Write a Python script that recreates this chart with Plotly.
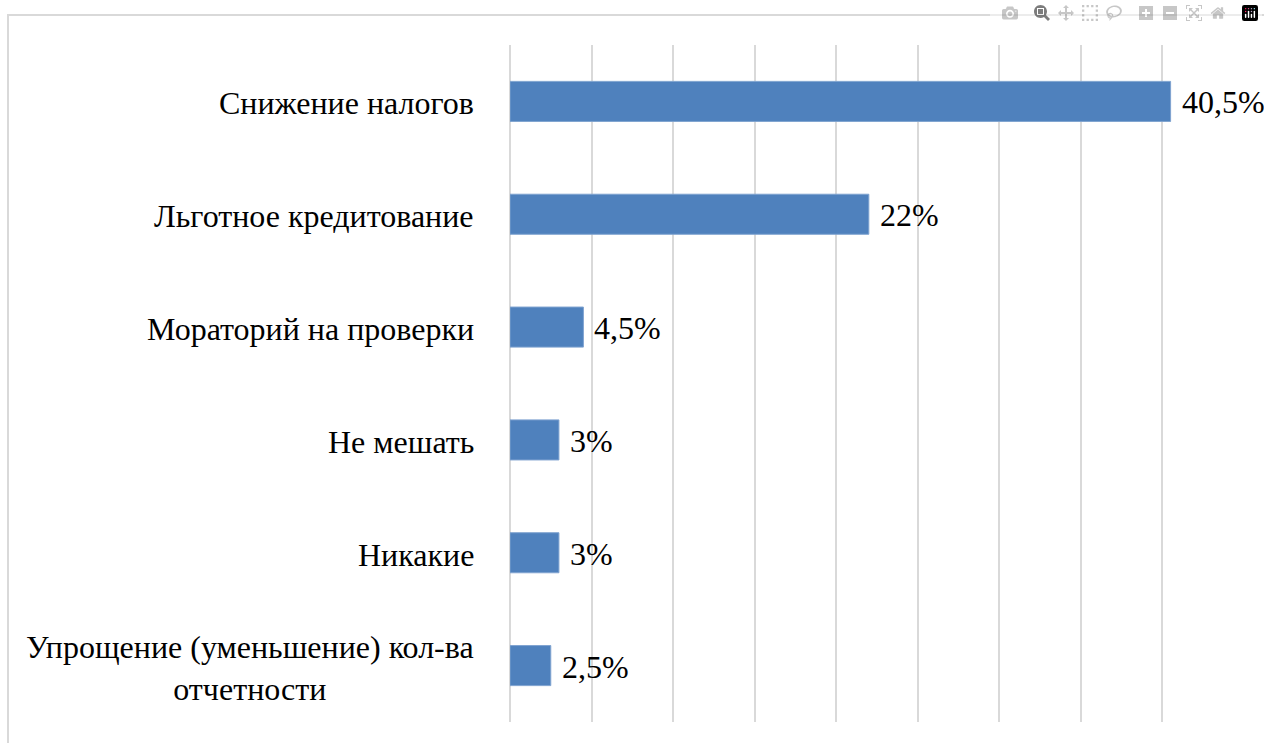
import plotly.graph_objects as go

categories = [
    "Снижение налогов",
    "Льготное кредитование",
    "Мораторий на проверки",
    "Не мешать",
    "Никакие",
    "Упрощение (уменьшение) кол-ва<br>отчетности",
]
values = [40.5, 22, 4.5, 3, 3, 2.5]
value_labels = ["40,5%", "22%", "4,5%", "3%", "3%", "2,5%"]

FONT = "Liberation Serif, Times New Roman, serif"
FS = 32
FIG_W = 1264
FIG_H = 743

fig = go.Figure(
    go.Bar(
        y=categories,
        x=values,
        orientation="h",
        marker=dict(color="#4F81BD", line=dict(color="#7FA3D0", width=1)),
        width=0.355,
        hoverinfo="x+y",
    )
)

annotations = []
for c in categories:
    annotations.append(
        dict(
            x=0, xref="paper", y=c, yref="y",
            text=c, showarrow=False, xanchor="right", yanchor="middle",
            align="center", xshift=-34, yshift=-2,
            font=dict(family=FONT, size=FS, color="#000000"),
        )
    )
for c, v, t in zip(categories, values, value_labels):
    annotations.append(
        dict(
            x=v, xref="x", y=c, yref="y",
            text=t, showarrow=False, xanchor="left", yanchor="middle",
            xshift=9, yshift=-1,
            font=dict(family=FONT, size=FS, color="#000000"),
        )
    )

W_PLOT = 734
H_PLOT = 677
fig.update_layout(
    width=FIG_W, height=FIG_H,
    margin=dict(l=510, r=FIG_W - 1244, t=45, b=FIG_H - 722),
    paper_bgcolor="white", plot_bgcolor="white",
    showlegend=False,
    font=dict(family=FONT),
    annotations=annotations,
    xaxis=dict(
        range=[0, 45], dtick=5, tick0=0, showticklabels=False,
        showgrid=True, gridcolor="#d9d9d9", gridwidth=2,
        zeroline=True, zerolinecolor="#d9d9d9", zerolinewidth=2,
        showline=False, ticks="",
    ),
    yaxis=dict(
        autorange="reversed", showticklabels=False, showgrid=False,
        zeroline=False, showline=False, ticks="",
    ),
    shapes=[
        dict(type="rect", xref="paper", yref="paper",
             x0=(8 - 510) / W_PLOT, x1=1.2, y0=-0.2, y1=1 + (45 - 15) / H_PLOT,
             line=dict(color="#d9d9d9", width=2), fillcolor="rgba(0,0,0,0)", layer="below"),
    ],
)

fig.write_html(
    "out.html",
    post_script="document.body.style.margin='0';"
                "document.documentElement.style.overflow='hidden';"
                "document.body.style.overflow='hidden';",
)
